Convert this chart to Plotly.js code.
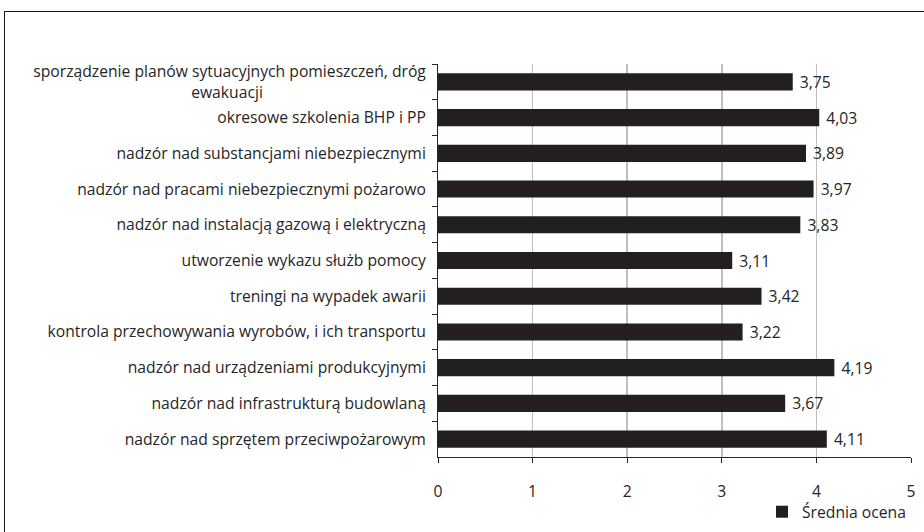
<!DOCTYPE html>
<html>
<head>
<meta charset="utf-8">
<script src="https://cdn.plot.ly/plotly-3.0.1.min.js"></script>
<style>
html,body{margin:0;padding:0;background:#fff;}
#wrap{position:relative;width:924px;height:532px;overflow:hidden;}
#chart{width:924px;height:532px;}
#frame{position:absolute;left:4px;top:11px;width:940px;height:540px;border:1px solid #1a1a1a;pointer-events:none;}
</style>
</head>
<body>
<div id="wrap"><div id="chart"></div><div id="frame"></div></div>
<script>
var NB = '\u00A0';
var categories = [
  'sporządzenie planów sytuacyjnych pomieszczeń, dróg<br>ewakuacji' + NB.repeat(40),
  'okresowe szkolenia BHP i PP',
  'nadzór nad substancjami niebezpiecznymi',
  'nadzór nad pracami niebezpiecznymi pożarowo',
  'nadzór nad instalacją gazową i elektryczną',
  'utworzenie wykazu służb pomocy',
  'treningi na wypadek awarii',
  'kontrola przechowywania wyrobów, i ich transportu',
  'nadzór nad urządzeniami produkcyjnymi',
  'nadzór nad infrastrukturą budowlaną',
  'nadzór nad sprzętem przeciwpożarowym'
];
var values = [3.75, 4.03, 3.89, 3.97, 3.83, 3.11, 3.42, 3.22, 4.19, 3.67, 4.11];
var seriesName = 'Średnia ocena';
var xTicks = [0, 1, 2, 3, 4, 5];

var labels = values.map(function(v){ return NB + v.toFixed(2).replace('.', ','); });

var FS = 15.7;
var font = {family: 'Open Sans, sans-serif', size: FS, color: '#262626'};

var trace = {
  type: 'bar',
  orientation: 'h',
  y: categories,
  x: values,
  name: seriesName,
  text: labels,
  textposition: 'outside',
  constraintext: 'none',
  cliponaxis: false,
  textfont: {family: font.family, size: FS, color: '#262626'},
  marker: {color: '#231f20', line: {width: 0}},
  hoverinfo: 'x+y',
  showlegend: true
};

var layout = {
  width: 924, height: 532,
  margin: {l: 438, r: 13, t: 63.5, b: 74.5, autoexpand: false},
  paper_bgcolor: '#ffffff',
  plot_bgcolor: '#ffffff',
  font: font,
  bargap: 0.52,
  showlegend: true,
  legend: {
    x: 1, xanchor: 'right', xref: 'paper',
    y: -0.14, yanchor: 'middle',
    orientation: 'h',
    itemwidth: 30,
    font: {family: font.family, size: FS, color: '#262626'},
    bgcolor: 'rgba(0,0,0,0)'
  },
  xaxis: {
    range: [0, 5],
    tickvals: xTicks,
    ticktext: xTicks.map(String),
    showgrid: true, gridcolor: '#bfbfbf', gridwidth: 1.5,
    zeroline: false,
    showline: true, linecolor: '#262626', linewidth: 1,
    ticks: 'outside', ticklen: 5, tickcolor: '#262626',
    ticklabelstandoff: 15,
    tickfont: {family: font.family, size: FS, color: '#262626'},
    fixedrange: true
  },
  yaxis: {
    type: 'category',
    autorange: 'reversed',
    showgrid: false,
    zeroline: false,
    showline: true, linecolor: '#262626', linewidth: 1,
    ticks: 'outside', ticklen: 5, tickcolor: '#262626',
    tickson: 'boundaries',
    ticklabelstandoff: 8,
    tickfont: {family: font.family, size: FS, color: '#262626'},
    fixedrange: true
  }
};

Plotly.newPlot('chart', [trace], layout, {displayModeBar: false, staticPlot: true});
</script>
</body>
</html>
